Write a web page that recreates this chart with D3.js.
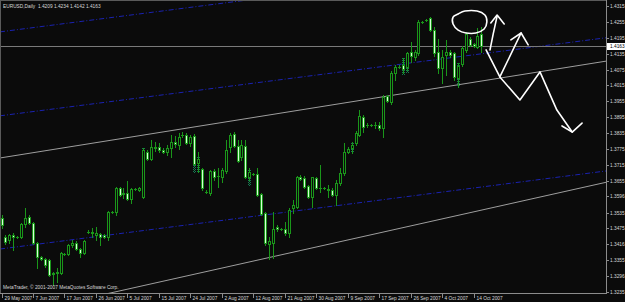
<!DOCTYPE html>
<html>
<head>
<meta charset="utf-8">
<script src="https://cdn.jsdelivr.net/npm/d3@7/dist/d3.min.js"></script>
<style>
  html, body { margin: 0; padding: 0; background: #0b0b0b; }
  svg { display: block; }
</style>
</head>
<body>
<svg id="chart" width="625" height="302"></svg>
<script>
// EURUSD daily bars, 29 May 2007 .. 16 Oct 2007
const opens = [
  1.3514,1.3443,1.3431,1.3450,1.3443,1.3443,1.3492,1.3518,1.3495,1.3420,
  1.3367,1.3360,1.3356,1.3303,1.3307,1.3307,1.3378,1.3378,1.3412,1.3420,
  1.3397,1.3382,1.3462,1.3458,1.3450,1.3454,1.3450,1.3443,1.3537,1.3537,
  1.3628,1.3605,1.3609,1.3586,1.3624,1.3620,1.3594,1.3764,1.3737,1.3783,
  1.3783,1.3771,1.3764,1.3779,1.3801,1.3790,1.3828,1.3828,1.3798,1.3824,
  1.3722,1.3700,1.3613,1.3609,1.3692,1.3673,1.3669,1.3692,1.3783,1.3832,
  1.3786,1.3745,1.3786,1.3669,1.3681,1.3681,1.3605,1.3533,1.3416,1.3420,
  1.3480,1.3473,1.3473,1.3458,1.3552,1.3556,1.3669,1.3666,1.3635,1.3594,
  1.3666,1.3628,1.3628,1.3620,1.3620,1.3601,1.3647,1.3685,1.3764,1.3779,
  1.3798,1.3828,1.3896,1.3866,1.3866,1.3866,1.3866,1.3854,1.3975,1.3952,
  1.4062,1.4085,1.4092,1.4085,1.4141,1.4122,1.4137,1.4255,1.4262,1.4270,
  1.4224,1.4141,1.4081,1.4130,1.4141,1.4137,1.4043,1.4096,1.4149,1.4190,
  1.4172,1.4160,1.4209
];
const highs = [
  1.3526,1.3450,1.3454,1.3458,1.3446,1.3495,1.3552,1.3526,1.3499,1.3424,
  1.3371,1.3363,1.3360,1.3310,1.3326,1.3386,1.3382,1.3416,1.3431,1.3428,
  1.3401,1.3431,1.3469,1.3477,1.3480,1.3458,1.3454,1.3541,1.3541,1.3632,
  1.3632,1.3628,1.3654,1.3628,1.3628,1.3632,1.3779,1.3771,1.3809,1.3801,
  1.3798,1.3779,1.3790,1.3828,1.3824,1.3835,1.3839,1.3835,1.3828,1.3832,
  1.3764,1.3703,1.3620,1.3696,1.3700,1.3703,1.3703,1.3809,1.3835,1.3839,
  1.3809,1.3809,1.3809,1.3703,1.3685,1.3703,1.3609,1.3537,1.3443,1.3537,
  1.3488,1.3477,1.3499,1.3552,1.3582,1.3673,1.3677,1.3673,1.3639,1.3669,
  1.3669,1.3715,1.3632,1.3639,1.3628,1.3658,1.3703,1.3798,1.3783,1.3801,
  1.3843,1.3922,1.3903,1.3873,1.3869,1.3877,1.3877,1.3979,1.3979,1.4069,
  1.4092,1.4092,1.4119,1.4141,1.4179,1.4149,1.4262,1.4258,1.4266,1.4273,
  1.4236,1.4190,1.4149,1.4187,1.4149,1.4141,1.4100,1.4164,1.4217,1.4198,
  1.4175,1.4232,1.4234
];
const lows = [
  1.3477,1.3416,1.3420,1.3394,1.3439,1.3439,1.3480,1.3492,1.3416,1.3326,
  1.3356,1.3329,1.3295,1.3261,1.3273,1.3303,1.3375,1.3375,1.3405,1.3394,
  1.3367,1.3378,1.3458,1.3443,1.3431,1.3412,1.3439,1.3431,1.3533,1.3526,
  1.3598,1.3590,1.3582,1.3571,1.3620,1.3616,1.3590,1.3733,1.3733,1.3767,
  1.3764,1.3760,1.3752,1.3745,1.3783,1.3775,1.3820,1.3794,1.3786,1.3715,
  1.3688,1.3620,1.3609,1.3601,1.3658,1.3632,1.3650,1.3685,1.3764,1.3783,
  1.3726,1.3733,1.3666,1.3658,1.3677,1.3598,1.3526,1.3412,1.3360,1.3363,
  1.3465,1.3469,1.3450,1.3443,1.3533,1.3552,1.3658,1.3628,1.3590,1.3556,
  1.3624,1.3613,1.3624,1.3594,1.3598,1.3563,1.3639,1.3677,1.3760,1.3760,
  1.3790,1.3824,1.3839,1.3858,1.3862,1.3854,1.3847,1.3820,1.3952,1.3945,
  1.4036,1.4081,1.4062,1.4073,1.4104,1.4111,1.4130,1.4251,1.4258,1.4221,
  1.4126,1.4062,1.4024,1.4054,1.4122,1.4036,1.4009,1.4088,1.4141,1.4164,
  1.4160,1.4156,1.4142
];
const closes = [
  1.3488,1.3424,1.3450,1.3443,1.3442,1.3492,1.3514,1.3495,1.3420,1.3367,
  1.3360,1.3337,1.3299,1.3307,1.3310,1.3382,1.3379,1.3412,1.3420,1.3397,
  1.3382,1.3428,1.3463,1.3462,1.3458,1.3443,1.3443,1.3537,1.3538,1.3628,
  1.3601,1.3609,1.3586,1.3624,1.3625,1.3628,1.3771,1.3737,1.3783,1.3779,
  1.3771,1.3764,1.3779,1.3801,1.3794,1.3820,1.3829,1.3798,1.3820,1.3718,
  1.3737,1.3628,1.3614,1.3692,1.3669,1.3674,1.3696,1.3771,1.3828,1.3786,
  1.3730,1.3790,1.3669,1.3688,1.3682,1.3601,1.3529,1.3420,1.3428,1.3473,
  1.3473,1.3474,1.3458,1.3545,1.3563,1.3669,1.3662,1.3632,1.3594,1.3669,
  1.3628,1.3629,1.3629,1.3624,1.3601,1.3647,1.3685,1.3764,1.3775,1.3790,
  1.3835,1.3900,1.3858,1.3867,1.3867,1.3867,1.3854,1.3971,1.3956,1.4062,
  1.4085,1.4086,1.4077,1.4137,1.4126,1.4141,1.4255,1.4256,1.4263,1.4224,
  1.4137,1.4081,1.4122,1.4141,1.4130,1.4047,1.4088,1.4156,1.4209,1.4168,
  1.4164,1.4202,1.4163
];

// dotted columns seen behind some bars: [bar index, top price, bottom price]
const dottedBars = [
  [36, 1.3779, 1.3594], [49, 1.3820, 1.3685], [50, 1.3745, 1.3685],
  [63, 1.3700, 1.3635], [75, 1.3669, 1.3556], [89, 1.3801, 1.3760],
  [90, 1.3835, 1.3798], [102, 1.4119, 1.4054], [103, 1.4137, 1.4062],
  [116, 1.4100, 1.4009]
];

const dateTicks = [0, 8, 16, 24, 32, 40, 48, 56, 64, 72, 80, 88, 96, 104, 112, 120];
const dateLabels = [
  "29 May 2007", "7 Jun 2007", "17 Jun 2007", "26 Jun 2007", "5 Jul 2007",
  "15 Jul 2007", "24 Jul 2007", "2 Aug 2007", "12 Aug 2007", "21 Aug 2007",
  "30 Aug 2007", "9 Sep 2007", "17 Sep 2007", "26 Sep 2007", "4 Oct 2007",
  "14 Oct 2007"
];
const priceTicks = [
  "1.4315", "1.4255", "1.4195", "1.4135", "1.4075", "1.4015", "1.3955",
  "1.3895", "1.3835", "1.3775", "1.3715", "1.3655", "1.3596", "1.3535",
  "1.3475", "1.3416", "1.3355", "1.3296", "1.3235"
];
const lastPrice = 1.4163;
const titleText = "EURUSD,Daily  1.4209 1.4234 1.4142 1.4163";
const copyText = "MetaTrader, \u00a9 2001-2007 MetaQuotes Software Corp.";

// trend channels: [bar1, price1, bar2, price2]
const blueLines = [
  [0, 1.4218, 150, 1.4505],
  [0, 1.3901, 150, 1.4188],
  [0, 1.3398, 150, 1.3685]
];
const greyLines = [
  [0, 1.3742, 150, 1.4098],
  [30, 1.3239, 150, 1.3637]
];

// hand drawn marks (bar index, price)
const sketchLoop = [
  [116.1, 1.4285], [117.8, 1.4296], [120.9, 1.4296], [122.9, 1.4281],
  [123.4, 1.4255], [122.7, 1.4228], [120.6, 1.4213], [118.1, 1.4213],
  [116.1, 1.4224], [114.8, 1.4247], [114.8, 1.4273]
];
const sketchPaths = [
  [[124.2, 1.4149], [125.0, 1.4209], [126.0, 1.4277]],
  [[124.4, 1.4251], [126.0, 1.4281], [127.8, 1.4247]],
  [[123.2, 1.4149], [126.7, 1.4047], [131.8, 1.3960], [136.9, 1.4066],
   [141.2, 1.3922], [145.1, 1.3839]],
  [[126.7, 1.4047], [132.1, 1.4213]],
  [[129.5, 1.4187], [132.1, 1.4213], [133.9, 1.4168]],
  [[142.5, 1.3862], [145.1, 1.3839], [147.6, 1.3873]]
];

const W = 625, H = 302;
const plotW = 606, plotH = 293;
const bg = "#0b0b0b";
const bullColor = "#1a961a";
const bearFill = "#d6ffd6";

const svg = d3.select("#chart");
svg.append("rect").attr("width", W).attr("height", H).attr("fill", bg);

const x = d3.scaleLinear().domain([0, 120]).range([1.5, 473.5]);
const y = d3.scaleLinear().domain([1.3235, 1.4315]).range([292, 6]);
const px = i => Math.round(x(i));
const py = v => Math.round(y(v)) + 0.5;

const defs = svg.append("defs");
defs.append("clipPath").attr("id", "plot-clip")
  .append("rect").attr("width", plotW).attr("height", plotH);
const pat = defs.append("pattern")
  .attr("id", "dots")
  .attr("width", 2).attr("height", 2)
  .attr("patternUnits", "userSpaceOnUse");
pat.append("rect").attr("width", 1).attr("height", 1).attr("fill", "#157a50");
pat.append("rect").attr("x", 1).attr("y", 1).attr("width", 1).attr("height", 1).attr("fill", "#157a50");

const plot = svg.append("g").attr("clip-path", "url(#plot-clip)");

// channel lines, extended over the whole plot width
function extend(l) {
  const slope = (l[3] - l[1]) / (l[2] - l[0]);
  const i0 = x.invert(0), i1 = x.invert(plotW);
  return [[i0, l[1] + (i0 - l[0]) * slope], [i1, l[1] + (i1 - l[0]) * slope]];
}
const lineGen = d3.line().x(d => x(d[0])).y(d => y(d[1]));

plot.selectAll("path.grey-line")
  .data(greyLines.map(extend))
  .join("path")
  .attr("class", "grey-line")
  .attr("d", lineGen)
  .attr("fill", "none")
  .attr("stroke", "#9e9e9e")
  .attr("stroke-width", 1);

plot.selectAll("path.blue-line")
  .data(blueLines.map(extend))
  .join("path")
  .attr("class", "blue-line")
  .attr("d", lineGen)
  .attr("fill", "none")
  .attr("stroke", "#1a22b0")
  .attr("stroke-width", 1)
  .attr("stroke-dasharray", "5,2,1,2");

// bid line
plot.append("line")
  .attr("x1", 0).attr("x2", plotW)
  .attr("y1", py(lastPrice)).attr("y2", py(lastPrice))
  .attr("stroke", "#7a7a7a");

// dotted columns
plot.selectAll("rect.dotted")
  .data(dottedBars)
  .join("rect")
  .attr("class", "dotted")
  .attr("x", d => px(d[0]) - 1)
  .attr("y", d => Math.round(y(d[1])))
  .attr("width", 3)
  .attr("height", d => Math.round(y(d[2]) - y(d[1])))
  .attr("fill", "url(#dots)");

// candles
const bars = opens.map((o, i) => ({ i, o, h: highs[i], l: lows[i], c: closes[i] }));

plot.selectAll("line.wick")
  .data(bars)
  .join("line")
  .attr("class", "wick")
  .attr("x1", d => px(d.i) + 0.5).attr("x2", d => px(d.i) + 0.5)
  .attr("y1", d => Math.round(y(d.h))).attr("y2", d => Math.round(y(d.l)) + 1)
  .attr("stroke", bullColor);

plot.selectAll("rect.body")
  .data(bars)
  .join("rect")
  .attr("class", "body")
  .attr("x", d => px(d.i) - 0.5)
  .attr("y", d => py(Math.max(d.o, d.c)))
  .attr("width", 2)
  .attr("height", d => Math.max(0.01, py(Math.min(d.o, d.c)) - py(Math.max(d.o, d.c))))
  .attr("fill", d => d.c < d.o ? bearFill : bg)
  .attr("stroke", bullColor);

// white hand drawing on top
const sketch = plot.append("g")
  .attr("fill", "none")
  .attr("stroke", "#ffffff")
  .attr("stroke-width", 1.6)
  .attr("stroke-linecap", "round")
  .attr("stroke-linejoin", "round");

sketch.append("path")
  .datum(sketchLoop)
  .attr("d", d3.line().x(d => x(d[0])).y(d => y(d[1])).curve(d3.curveCardinalClosed));

sketch.selectAll("path.stroke")
  .data(sketchPaths)
  .join("path")
  .attr("class", "stroke")
  .attr("d", lineGen);

// frame
const frameColor = "#8c8c8c";
svg.append("line").attr("x1", 0.5).attr("x2", 0.5).attr("y1", 0).attr("y2", plotH).attr("stroke", "#5a5a5a");
svg.append("line").attr("x1", 0).attr("x2", plotW).attr("y1", 0.5).attr("y2", 0.5).attr("stroke", "#5a5a5a");
svg.append("line").attr("x1", plotW + 0.5).attr("x2", plotW + 0.5).attr("y1", 0).attr("y2", plotH + 1).attr("stroke", frameColor);
svg.append("line").attr("x1", 0).attr("x2", plotW + 1).attr("y1", plotH + 0.5).attr("y2", plotH + 0.5).attr("stroke", frameColor);

const font = "'Liberation Sans', Arial, sans-serif";
const fontSize = 4.8;
const textColor = "#d8d8d8";

// price axis
const yAxis = svg.append("g");
const yt = yAxis.selectAll("g").data(priceTicks).join("g")
  .attr("transform", d => `translate(0,${py(+d)})`);
yt.append("line").attr("x1", plotW + 1).attr("x2", plotW + 3).attr("stroke", frameColor);
yt.append("text")
  .attr("x", plotW + 4)
  .attr("dy", "0.35em")
  .attr("font-family", font)
  .attr("font-size", fontSize)
  .attr("fill", textColor)
  .text(d => d);

const lastY = py(lastPrice);
yAxis.append("rect")
  .attr("x", plotW + 1).attr("y", lastY - 3.5)
  .attr("width", W - plotW - 1).attr("height", 7)
  .attr("fill", "#ffffff");
yAxis.append("text")
  .attr("x", plotW + 4).attr("y", lastY)
  .attr("dy", "0.35em")
  .attr("font-family", font)
  .attr("font-size", fontSize)
  .attr("fill", "#000000")
  .text(lastPrice.toFixed(4));

// date axis
const xAxis = svg.append("g");
const xt = xAxis.selectAll("g").data(dateTicks).join("g")
  .attr("transform", d => `translate(${px(d) + 0.5},0)`);
xt.append("line").attr("y1", plotH + 1).attr("y2", plotH + 5).attr("stroke", frameColor);
xt.append("text")
  .attr("x", 2)
  .attr("y", plotH + 6.5)
  .attr("font-family", font)
  .attr("font-size", fontSize)
  .attr("fill", textColor)
  .text((d, k) => dateLabels[k]);

// title and copyright
svg.append("text")
  .attr("x", 3).attr("y", 8)
  .attr("font-family", font).attr("font-size", fontSize)
  .attr("fill", textColor)
  .attr("xml:space", "preserve")
  .text(titleText);

svg.append("text")
  .attr("x", 3).attr("y", plotH - 4)
  .attr("font-family", font).attr("font-size", fontSize)
  .attr("fill", textColor)
  .text(copyText);
</script>
</body>
</html>
